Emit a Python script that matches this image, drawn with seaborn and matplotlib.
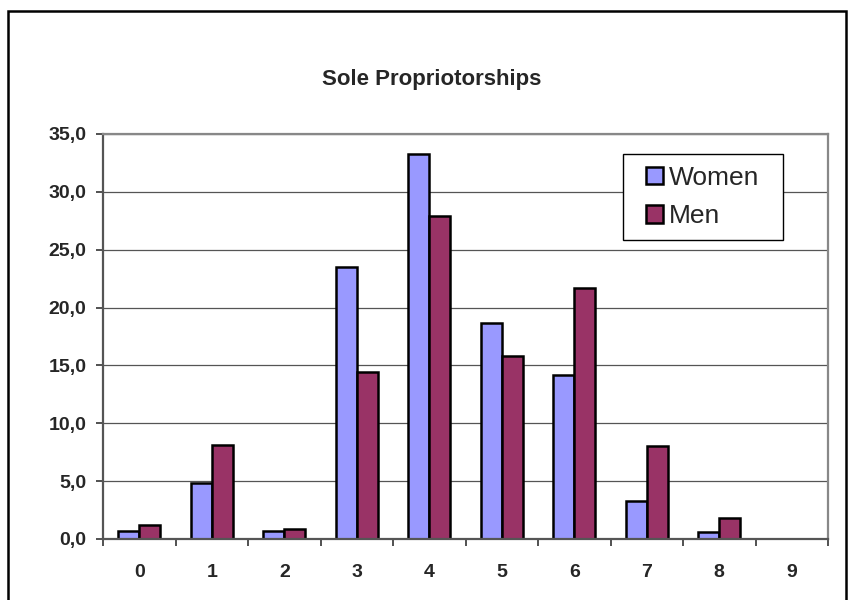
import matplotlib
matplotlib.use("Agg")
import matplotlib.pyplot as plt
import seaborn as sns
import pandas as pd
import numpy as np
from matplotlib.patches import Rectangle
from matplotlib.ticker import FuncFormatter, FixedLocator

categories = ["0", "1", "2", "3", "4", "5", "6", "7", "8", "9"]
women = [0.7, 4.8, 0.7, 23.5, 33.3, 18.7, 14.2, 3.3, 0.6, 0.0]
men = [1.2, 8.1, 0.9, 14.4, 27.9, 15.8, 21.7, 8.0, 1.8, 0.0]
series_names = ["Women", "Men"]
title = "Sole Propriotorships"
yticks = [0, 5, 10, 15, 20, 25, 30, 35]

df = pd.DataFrame({
    "cat": categories * 2,
    "value": women + men,
    "series": [series_names[0]] * len(categories) + [series_names[1]] * len(categories),
})

sns.set_theme(style="white")
plt.rcParams["font.family"] = ["Liberation Sans", "DejaVu Sans"]

W, H = 851, 600
fig = plt.figure(figsize=(W / 100, H / 100), dpi=100)
ax = fig.add_axes([103 / W, 1 - 539 / H, (828 - 103) / W, (539 - 134) / H])

sns.barplot(data=df, x="cat", y="value", hue="series", order=categories,
            hue_order=series_names, palette=["#9999FF", "#993366"],
            width=0.58, gap=0, edgecolor="black", linewidth=1.8,
            ax=ax, legend=True, errorbar=None, saturation=1)

ax.set_xlim(-0.5, len(categories) - 0.5)
ax.set_ylim(0, 35)
ax.set_yticks(yticks)
ax.yaxis.set_major_formatter(FuncFormatter(lambda v, p: f"{v:.1f}".replace(".", ",")))
ax.set_xlabel("")
ax.set_ylabel("")

ax.yaxis.grid(True, color="#555555", linewidth=0.9)
ax.set_axisbelow(True)

for s in ["left", "bottom"]:
    ax.spines[s].set_color("#555555")
    ax.spines[s].set_linewidth(1.6)
for s in ["top", "right"]:
    ax.spines[s].set_color("#888888")
    ax.spines[s].set_linewidth(1.6)

ax.tick_params(axis="y", which="major", direction="out", length=5, width=1.2,
               color="#333333", labelsize=14, pad=7, left=True)
for lab in ax.get_yticklabels():
    lab.set_fontweight("bold")
ax.xaxis.set_minor_locator(FixedLocator(np.arange(-0.5, len(categories), 1.0)))
ax.tick_params(axis="x", which="major", length=0, labelsize=14, pad=18)
ax.tick_params(axis="x", which="minor", direction="out", length=5, width=1.2,
               color="#333333", bottom=True)
for lab in ax.get_xticklabels():
    lab.set_fontweight("bold")

fig.text(432 / W, 1 - 80 / H, title, ha="center", va="center",
         fontsize=16, fontweight="bold")

# legend box (Excel-style, fixed size)
ax.add_patch(Rectangle((623 / W, 1 - 240 / H), 160 / W, 86 / H,
                       transform=fig.transFigure, facecolor="white",
                       edgecolor="black", linewidth=1.0, zorder=4.5,
                       clip_on=False))
leg = ax.legend(loc="center left", bbox_to_anchor=(646 / W, 1 - 197 / H),
                bbox_transform=fig.transFigure, frameon=False,
                fontsize=19, handlelength=0.65, handleheight=0.65,
                handletextpad=0.2, borderpad=0, labelspacing=0.55,
                borderaxespad=0, title=None)
leg.set_zorder(5)

fig.patches.append(Rectangle((8 / W, -0.05), (846 - 8) / W, 1.05 - 11 / H,
                             transform=fig.transFigure, fill=False,
                             edgecolor="black", linewidth=1.8))

fig.savefig("out.png", dpi=100)
